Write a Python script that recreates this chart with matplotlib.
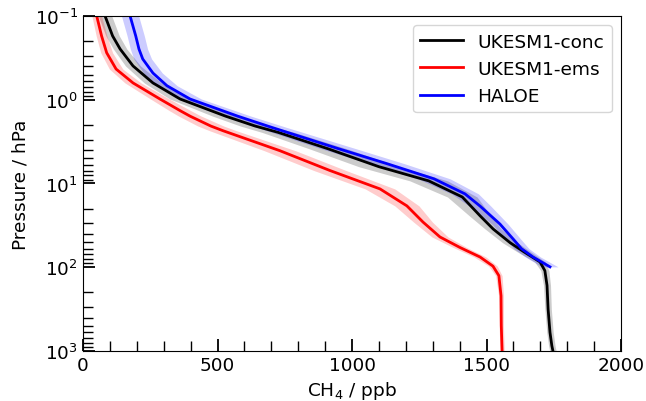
import numpy as np
import matplotlib
matplotlib.use("Agg")
import matplotlib.pyplot as plt

# ---- data ----
conc_p = [0.1, 0.173, 0.248, 0.395, 0.63, 0.98, 1.57, 2.06, 2.45, 3.86, 6.3, 9.3, 14.5,
          24.3, 35, 51, 65.7, 86.5, 110, 165, 316, 600, 870, 1000]
conc_x = [82, 110, 138, 186, 260, 361, 530, 640, 725, 912, 1100, 1285, 1410,
          1476, 1525, 1588, 1640, 1699, 1717, 1725, 1729, 1736, 1743, 1747]
conc_s = [25, 25, 25, 28, 32, 38, 48, 55, 60, 70, 75, 70, 55,
          40, 30, 28, 25, 20, 15, 13, 12, 12, 12, 12]

ems_p = [0.1, 0.173, 0.275, 0.43, 0.63, 0.98, 1.35, 1.57, 2.06, 2.34, 4.06, 7.0, 11.6,
         18.5, 28.9, 43.5, 58, 75.5, 97, 126, 219, 500, 1000]
ems_x = [51, 69, 88, 123, 186, 286, 361, 398, 475, 520, 732, 918, 1104,
         1204, 1264, 1327, 1401, 1476, 1524, 1546, 1554, 1555, 1558]
ems_s = [18, 20, 22, 25, 30, 35, 40, 42, 48, 50, 58, 60, 55,
         45, 35, 30, 25, 22, 16, 12, 9, 8, 8]

haloe_p = [0.1, 0.173, 0.248, 0.326, 0.48, 0.68, 0.98, 1.57, 2.13, 3.8, 5.8, 8.8, 13.3,
           18.6, 30.5, 46, 60, 75.5, 99]
haloe_x = [175, 196, 208, 222, 260, 312, 398, 575, 700, 945, 1130, 1305, 1420,
           1476, 1550, 1599, 1630, 1673, 1736]
haloe_s = [32, 32, 32, 33, 35, 38, 42, 50, 55, 65, 65, 60, 50,
           40, 30, 28, 28, 28, 30]

series = [("UKESM1-conc", "black", conc_p, conc_x, conc_s),
          ("UKESM1-ems", "red", ems_p, ems_x, ems_s),
          ("HALOE", "blue", haloe_p, haloe_x, haloe_s)]

FS = 13.3
fig = plt.figure(figsize=(6.46, 4.02), dpi=100)
ax = fig.add_axes([0.1285, 0.1244, 0.8328, 0.8333])

for name, col, p, x, s in series:
    p = np.array(p); x = np.array(x, float); s = np.array(s, float)
    ax.fill_betweenx(p, x - s, x + s, color=col, alpha=0.2, lw=0)
for name, col, p, x, s in series:
    ax.plot(x, p, color=col, lw=2.0, label=name)

ax.set_yscale("log")
ax.set_ylim(1000, 0.1)
ax.set_xlim(0, 2000)
ax.set_xticks([0, 500, 1000, 1500, 2000])
ax.set_xticks(np.arange(0, 2001, 100), minor=True)
ax.tick_params(which="major", direction="in", length=8.6, width=1.3, labelsize=FS,
               top=False, right=False)
ax.tick_params(which="minor", direction="in", length=7.2, width=1.0,
               top=False, right=False)
ax.set_xlabel("CH$_4$ / ppb", fontsize=FS)
ax.set_ylabel("Pressure / hPa", fontsize=FS)
ax.legend(loc="upper right", fontsize=FS, handlelength=2.3)

fig.savefig("out.png", dpi=100)
